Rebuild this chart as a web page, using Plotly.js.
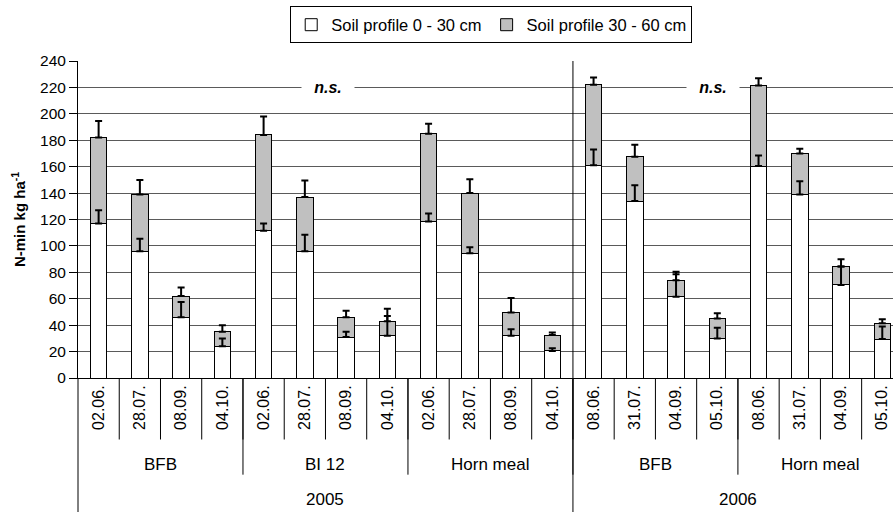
<!DOCTYPE html>
<html>
<head>
<meta charset="utf-8">
<script src="https://cdn.plot.ly/plotly-3.0.1.min.js"></script>
<style>html,body{margin:0;padding:0;background:#fff}#chart{width:893px;height:512px}</style>
</head>
<body>
<div id="chart"></div>
<script>
// ---- data ----
const dates = ['02.06.','28.07.','08.09.','04.10.','02.06.','28.07.','08.09.','04.10.','02.06.','28.07.','08.09.','04.10.','08.06.','31.07.','04.09.','05.10.','08.06.','31.07.','04.09.','05.10.'];
const treatments = ['BFB','BFB','BFB','BFB','BI 12','BI 12','BI 12','BI 12','Horn meal','Horn meal','Horn meal','Horn meal','BFB','BFB','BFB','BFB','Horn meal','Horn meal','Horn meal','Horn meal'];
const years = ['2005','2005','2005','2005','2005','2005','2005','2005','2005','2005','2005','2005','2006','2006','2006','2006','2006','2006','2006','2006'];
const topsoil = [117, 96, 46, 24, 111.5, 96, 31, 32, 118.5, 94.5, 32, 20.5, 161, 134, 61.5, 30, 160.5, 139, 70.5, 29.5];
const subsoil = [65, 43, 16, 11, 72.5, 41, 15, 11, 66.5, 45.5, 17.5, 12, 61, 33.5, 12.5, 15, 61, 31, 14, 12];
const topsoilErr = [10, 9.5, 11.5, 6, 5.5, 12.5, 4, 15, 6, 4.5, 5, 2, 12, 12, 17, 8, 8, 10, 14, 9.5];
const totalErr = [12.5, 11, 6.5, 5, 14, 12.5, 5, 9.5, 7.5, 10.5, 11, 2, 5.5, 9, 6.5, 4, 5.5, 3.5, 5.5, 3];
const nsLabels = ['n.s.', 'n.s.'];
const seriesNames = ['Soil profile 0 - 30 cm', 'Soil profile 30 - 60 cm'];

// ---- build ----
const FONT = 'Liberation Sans, Arial, sans-serif';
const idx = dates.map((d, i) => i);
const totals = topsoil.map((v, i) => v + subsoil[i]);
const zeros = idx.map(() => 0);

const traces = [
  {type: 'bar', name: seriesNames[0], x: idx, y: topsoil, width: 0.4,
   marker: {color: '#ffffff', line: {color: '#000000', width: 1}}, hoverinfo: 'y'},
  {type: 'bar', name: seriesNames[1], x: idx, y: subsoil, width: 0.4,
   marker: {color: '#c0c0c0', line: {color: '#000000', width: 1}}, hoverinfo: 'y'},
  {type: 'scatter', mode: 'markers', x: idx, y: topsoil, showlegend: false, hoverinfo: 'skip',
   marker: {size: 1, color: 'rgba(0,0,0,0)'},
   error_y: {type: 'data', symmetric: false, array: topsoilErr, arrayminus: zeros, color: '#000', thickness: 2, width: 3.5}},
  {type: 'scatter', mode: 'markers', x: idx, y: totals, showlegend: false, hoverinfo: 'skip',
   marker: {size: 1, color: 'rgba(0,0,0,0)'},
   error_y: {type: 'data', symmetric: false, array: totalErr, arrayminus: zeros, color: '#000', thickness: 2, width: 3.5}}
];

// group helpers
function groupsOf(arr, parent) {
  const g = [];
  arr.forEach((v, i) => {
    const key = v + '|' + (parent ? parent[i] : '');
    if (!g.length || g[g.length - 1].key !== key) g.push({key: key, label: v, start: i, end: i});
    else g[g.length - 1].end = i;
  });
  return g;
}
const tGroups = groupsOf(treatments, years);
const yGroups = groupsOf(years);

const shapes = [];
const line = {color: '#000000', width: 1};
const yDate = -0.194, yTreat = -0.305, yYear = -0.45;
idx.forEach(i => {
  if (i > 0) shapes.push({type: 'line', xref: 'x', yref: 'paper', x0: i - 0.5, x1: i - 0.5, y0: 0, y1: yDate, line: line});
});
tGroups.forEach((g, k) => {
  if (k > 0) shapes.push({type: 'line', xref: 'x', yref: 'paper', x0: g.start - 0.5, x1: g.start - 0.5, y0: 0, y1: yTreat, line: line});
});
yGroups.forEach((g, k) => {
  if (k > 0) shapes.push({type: 'line', xref: 'x', yref: 'paper', x0: g.start - 0.5, x1: g.start - 0.5, y0: 1, y1: yYear, line: line});
});
shapes.push({type: 'line', xref: 'paper', yref: 'paper', x0: 0, x1: 0, y0: 0, y1: yYear, line: line});

const annotations = [];
tGroups.forEach(g => annotations.push({xref: 'x', yref: 'paper', x: (g.start + g.end) / 2, y: -0.272, text: g.label,
  showarrow: false, font: {family: FONT, size: 17, color: '#000'}, yanchor: 'middle'}));
yGroups.forEach(g => annotations.push({xref: 'x', yref: 'paper', x: (g.start + g.end) / 2, y: -0.382, text: g.label,
  showarrow: false, font: {family: FONT, size: 17, color: '#000'}, yanchor: 'middle'}));
const nsX = [5.57, 14.9];
nsLabels.forEach((t, k) => annotations.push({xref: 'x', yref: 'y', x: nsX[k], y: 220, text: '<b><i>' + t + '</i></b>',
  showarrow: false, bgcolor: '#ffffff', width: 50, borderpad: 1, font: {family: FONT, size: 16, color: '#000'}}));

const layout = {
  width: 893, height: 512,
  margin: {l: 78, r: 0, t: 61, b: 134},
  paper_bgcolor: '#ffffff', plot_bgcolor: '#ffffff',
  barmode: 'stack',
  font: {family: FONT, size: 15, color: '#000'},
  showlegend: true,
  legend: {orientation: 'h', x: 0.507, xanchor: 'center', y: 1.172, yanchor: 'top',
    bordercolor: '#000', borderwidth: 1, font: {family: FONT, size: 16.5, color: '#000'},
    itemwidth: 30, tracegroupgap: 0, traceorder: 'normal'},
  xaxis: {type: 'linear', range: [-0.5, 19.26], tickmode: 'array', tickvals: idx, ticktext: dates,
    tickangle: -90, ticks: '', showgrid: false, zeroline: false, showline: true, linecolor: '#000', linewidth: 1,
    tickfont: {family: FONT, size: 16, color: '#000'}, fixedrange: true},
  yaxis: {range: [0, 240], dtick: 20, tick0: 0, ticks: 'outside', ticklen: 8, tickcolor: '#000',
    showline: true, linecolor: '#000', linewidth: 1, showgrid: true, gridcolor: '#5a5a5a', gridwidth: 1,
    zeroline: false, tickfont: {family: FONT, size: 15.5, color: '#000'},
    title: {text: '<b>N-min kg ha<sup>-1</sup></b>', font: {family: FONT, size: 15, color: '#000'}, standoff: 10},
    automargin: false, fixedrange: true},
  shapes: shapes,
  annotations: annotations
};

Plotly.newPlot('chart', traces, layout, {displayModeBar: false, staticPlot: true});
</script>
</body>
</html>
